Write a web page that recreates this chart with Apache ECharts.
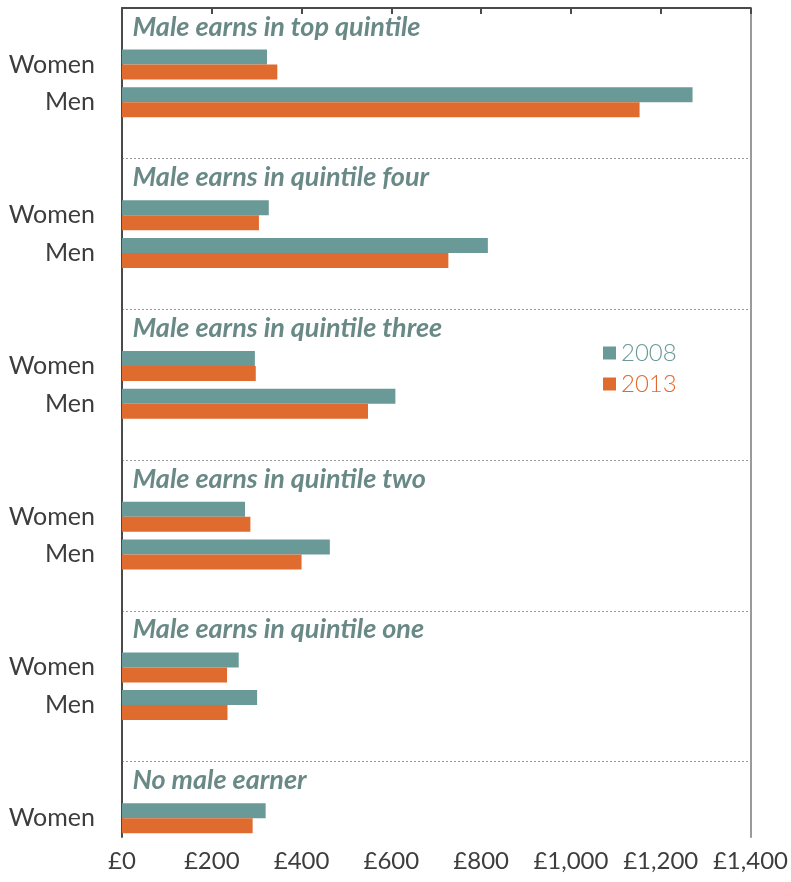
<!DOCTYPE html>
<html>
<head>
<meta charset="utf-8">
<title>Earnings by male quintile</title>
<script src="https://cdn.jsdelivr.net/npm/echarts@6/dist/echarts.min.js"></script>
<style>
    html, body { margin: 0; padding: 0; background: #fff; }
    #chart { width: 791px; height: 882px; }
</style>
</head>
<body>
<div id="chart"></div>
<script>
// section titles, top to bottom
var titles = [
    'Male earns in top quintile',
    'Male earns in quintile four',
    'Male earns in quintile three',
    'Male earns in quintile two',
    'Male earns in quintile one',
    'No male earner'
];
var years = ['2008', '2013'];
// weekly earnings (£) per section
var women2008 = [323, 327, 296, 274, 260, 320];
var women2013 = [346, 305, 298, 286, 234, 291];
var men2008 = [1271, 815, 609, 463, 301];
var men2013 = [1153, 727, 548, 400, 235];

var colors = ['#6a9a97', '#e06b2f'];

// build rows: title, Women, Men, blank (last section has no men / blank)
var rows = [], bars2008 = [], bars2013 = [], titleData = [];
titles.forEach(function (t, i) {
    rows.push('title|' + i);
    bars2008.push('-'); bars2013.push('-');
    titleData.push([0, 'title|' + i]);

    rows.push('Women|' + i);
    bars2008.push(women2008[i]); bars2013.push(women2013[i]);

    if (men2008[i] != null) {
        rows.push('Men|' + i);
        bars2008.push(men2008[i]); bars2013.push(men2013[i]);
    }
    if (i < titles.length - 1) {
        rows.push('gap|' + i);
        bars2008.push('-'); bars2013.push('-');
    }
});

var chart = echarts.init(document.getElementById('chart'));

var option = {
    animation: false,
    textStyle: { fontFamily: 'Lato' },
    color: colors,
    grid: { left: 122, right: 39, top: 8, bottom: 45, containLabel: false },
    legend: {
        orient: 'vertical',
        left: 598,
        top: 336,
        icon: 'rect',
        itemWidth: 13,
        itemHeight: 13,
        itemGap: 7,
        selectedMode: false,
        textStyle: { fontSize: 24, fontFamily: 'Lato', fontWeight: 300 },
        data: [
            { name: years[0], textStyle: { color: colors[0] } },
            { name: years[1], textStyle: { color: colors[1] } }
        ]
    },
    xAxis: {
        type: 'value',
        min: 0,
        max: 1400,
        interval: 200,
        axisLine: { show: true, lineStyle: { color: '#4a4a4a', width: 2 } },
        axisTick: { show: true, length: 6, lineStyle: { color: '#4a4a4a', width: 2 } },
        splitLine: { show: false },
        axisLabel: {
            fontSize: 24,
            color: '#3d3d3d',
            margin: 12,
            formatter: function (v) {
                return '£' + v.toLocaleString('en-GB');
            }
        }
    },
    yAxis: [{
        type: 'category',
        inverse: true,
        data: rows,
        axisLine: { show: true, lineStyle: { color: '#4a4a4a', width: 2 } },
        axisTick: { show: false },
        splitLine: { show: false },
        axisLabel: {
            interval: 0,
            fontSize: 25,
            color: '#3d3d3d',
            margin: 27,
            formatter: function (v) {
                var k = v.split('|')[0];
                return (k === 'Women' || k === 'Men') ? k : '';
            }
        }
    }, {
        // helper axis: section separators + right border
        type: 'value',
        position: 'right',
        inverse: true,
        min: 0,
        max: rows.length,
        interval: 4,
        axisLine: { show: true, lineStyle: { color: '#9a9a9a', width: 2 } },
        axisTick: { show: false },
        axisLabel: { show: false },
        splitLine: {
            show: true,
            showMinLine: true,
            showMaxLine: false,
            lineStyle: { color: '#9a9a9a', width: 1, type: [2, 2] }
        }
    }],
    series: [{
        name: years[0],
        type: 'bar',
        barWidth: 15,
        barGap: 0,
        data: bars2008
    }, {
        name: years[1],
        type: 'bar',
        barWidth: 15,
        barGap: 0,
        data: bars2013
    }, {
        name: 'titles',
        type: 'scatter',
        symbolSize: 1,
        itemStyle: { color: 'rgba(0,0,0,0)' },
        silent: true,
        z: 5,
        label: {
            show: true,
            position: 'right',
            distance: 10,
            fontFamily: 'Lato',
            fontSize: 27,
            fontWeight: 'bold',
            fontStyle: 'italic',
            color: '#436b68',
            formatter: function (p) {
                return titles[+p.value[1].split('|')[1]];
            }
        },
        data: titleData
    }]
};
chart.setOption(option);
</script>
</body>
</html>
